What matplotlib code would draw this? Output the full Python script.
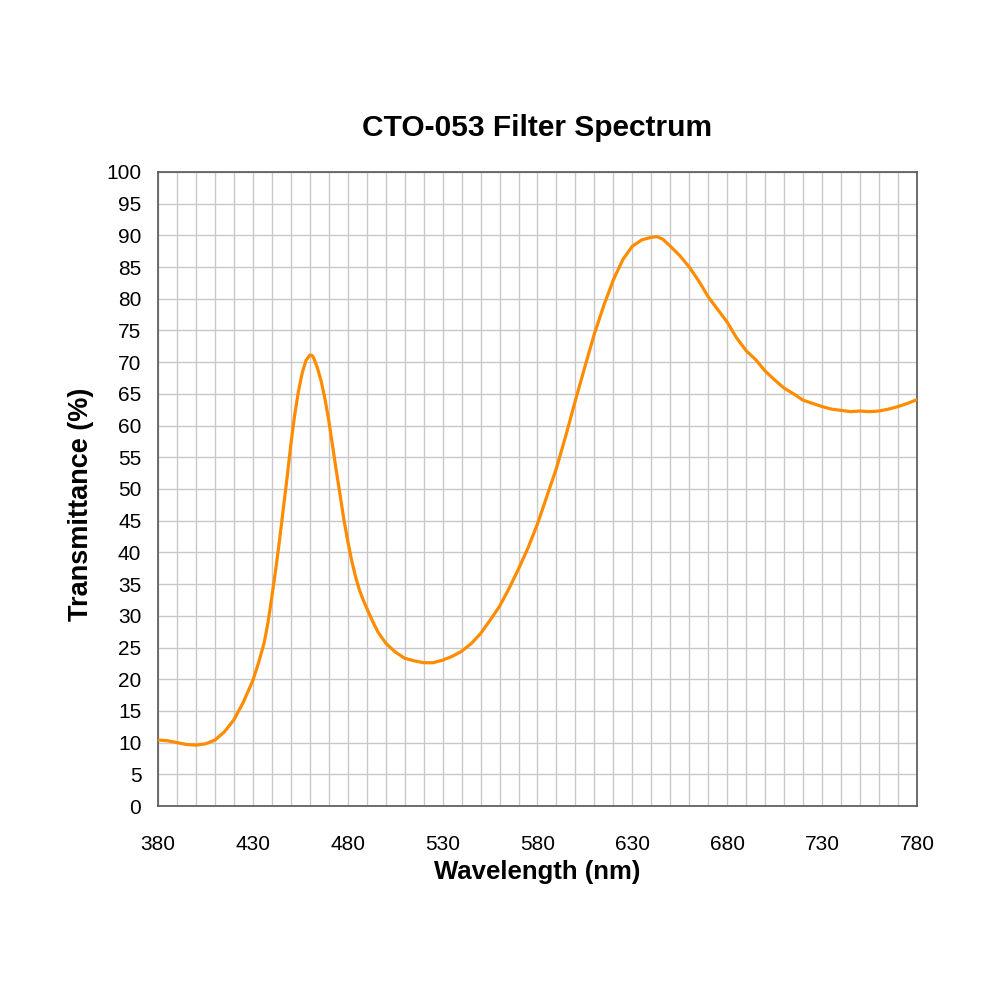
import numpy as np
import matplotlib
matplotlib.use("Agg")
import matplotlib.pyplot as plt
from matplotlib.ticker import MultipleLocator

plt.rcParams['font.family'] = ['Liberation Sans', 'DejaVu Sans']

# transmittance
wavelength = [380, 385, 390, 395, 400, 405, 410, 415, 420, 425,
              430, 433, 436, 438, 440, 442, 444, 446, 448, 450,
              452, 454, 456, 458, 460, 461, 462, 464, 466, 468,
              470, 472, 474, 476, 478, 480, 482, 484, 486, 488,
              490, 493, 496, 500, 505, 510, 515, 520, 525, 530,
              535, 540, 545, 550, 555, 560, 565, 570, 575, 580,
              585, 590, 595, 600, 605, 610, 615, 620, 625, 630,
              635, 640, 643, 646, 650, 655, 660, 665, 670, 675,
              680, 685, 690, 695, 700, 705, 710, 715, 720, 725,
              730, 735, 740, 745, 750, 755, 760, 765, 770, 775, 780]
transmittance = [10.4, 10.3, 10.0, 9.7, 9.6, 9.8, 10.4, 11.7, 13.6, 16.4,
                 19.8, 22.6, 25.8, 29.0, 33.0, 37.2, 41.8, 46.8, 51.7, 57.0,
                 61.6, 65.4, 68.3, 70.3, 71.1, 71.1, 70.7, 69.1, 67.0, 64.2,
                 60.8, 56.8, 52.8, 49.0, 45.1, 41.8, 38.8, 36.3, 34.2, 32.6,
                 31.2, 29.2, 27.4, 25.7, 24.3, 23.3, 22.9, 22.6, 22.6, 23.0,
                 23.6, 24.4, 25.6, 27.2, 29.3, 31.5, 34.3, 37.4, 40.7, 44.5,
                 48.9, 53.3, 58.5, 64.0, 69.3, 74.5, 79.0, 83.0, 86.2, 88.3,
                 89.3, 89.7, 89.8, 89.4, 88.3, 86.8, 85.0, 82.8, 80.3, 78.3,
                 76.3, 73.8, 71.8, 70.4, 68.6, 67.2, 65.9, 65.0, 64.0, 63.5,
                 63.0, 62.6, 62.4, 62.2, 62.3, 62.2, 62.3, 62.6, 63.0, 63.5, 64.1]
xticks = [380, 430, 480, 530, 580, 630, 680, 730, 780]

fig = plt.figure(figsize=(10, 10), dpi=100)
ax = fig.add_axes([0.158, 0.194, 0.759, 0.634])

ax.plot(wavelength, transmittance, color='#ff8c00', lw=2.3, solid_capstyle='round', zorder=3)

ax.set_xlim(380, 780)
ax.set_ylim(0, 100)
ax.set_xticks(xticks)
ax.xaxis.set_minor_locator(MultipleLocator(10))
ax.yaxis.set_major_locator(MultipleLocator(5))
ax.grid(which='both', axis='x', color='#c8c8c8', lw=1.0)
ax.grid(which='major', axis='y', color='#c8c8c8', lw=1.0)
ax.set_axisbelow(True)
ax.tick_params(which='both', length=0, labelsize=15, colors='black')
ax.tick_params(axis='x', pad=21)
ax.tick_params(axis='y', pad=12)

for s in ax.spines.values():
    s.set_color('#555555')
    s.set_linewidth(1.2)

ax.set_title('CTO-053 Filter Spectrum', fontsize=21.5, fontweight='bold', pad=26)
ax.set_xlabel('Wavelength (nm)', fontsize=18.5, fontweight='bold', labelpad=4)
ax.set_ylabel('Transmittance (%)', fontsize=19.5, fontweight='bold')
ax.yaxis.set_label_coords(-0.084, 0.476)

fig.savefig('out.png', dpi=100, facecolor='white')
